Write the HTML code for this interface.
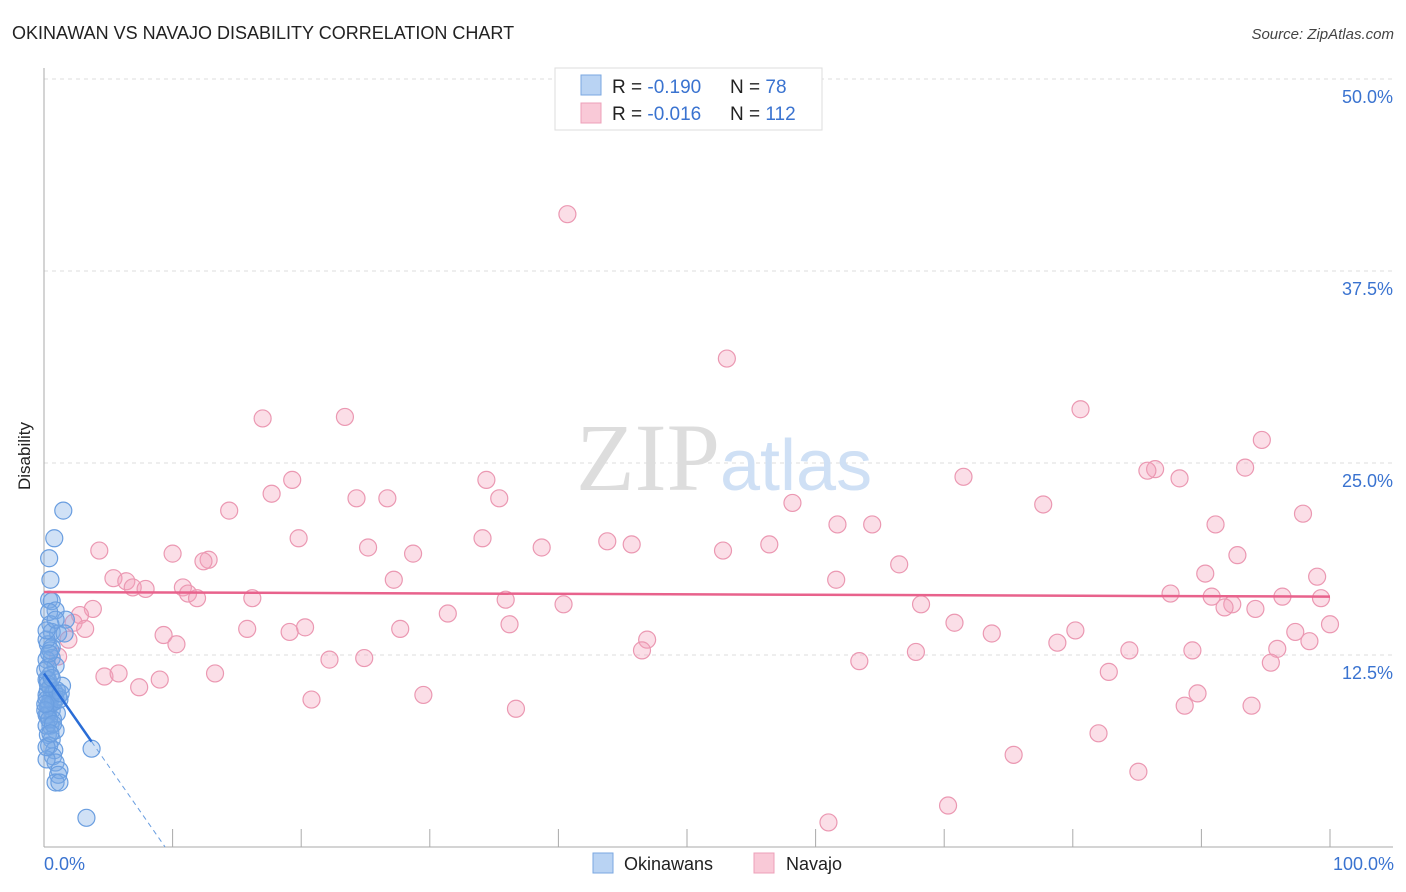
<!DOCTYPE html>
<html><head><meta charset="utf-8"><style>
body{margin:0;background:#fff;width:1406px;height:892px;overflow:hidden;font-family:"Liberation Sans",sans-serif}
svg{position:absolute;left:0;top:0}
</style></head><body>
<svg id="chart" width="1406" height="892">
<text x="12" y="39" font-size="18" fill="#222">OKINAWAN VS NAVAJO DISABILITY CORRELATION CHART</text>
<text x="1394" y="39" font-size="15" fill="#444" font-style="italic" text-anchor="end">Source: ZipAtlas.com</text>
<text x="30" y="456" font-size="17" fill="#222" transform="rotate(-90 30 456)" text-anchor="middle">Disability</text>
<g id="grid"></g>
<text x="720" y="490" font-size="96" fill="#ddd" text-anchor="end" font-family="Liberation Serif,serif">ZIP</text>
<text x="720" y="490" font-size="72" fill="#cfe0f5">atlas</text>
<g id="axes"></g>
<g id="pts"></g>
<g id="trends"></g>
<g>
<rect x="555" y="68" width="267" height="62" fill="#fff" stroke="#ddd"/>
<rect x="581" y="75" width="20" height="20" fill="#b9d3f3" stroke="#7aa7e0"/>
<rect x="581" y="103" width="20" height="20" fill="#f9c9d7" stroke="#eda0b8"/>
<text x="612" y="93" font-size="19" fill="#222">R = <tspan fill="#3a73d0">-0.190</tspan></text>
<text x="730" y="93" font-size="19" fill="#222">N = <tspan fill="#3a73d0"> 78</tspan></text>
<text x="612" y="120" font-size="19" fill="#222">R = <tspan fill="#3a73d0">-0.016</tspan></text>
<text x="730" y="120" font-size="19" fill="#222">N = <tspan fill="#3a73d0">112</tspan></text>
</g>
<g>
<rect x="593" y="853" width="20" height="20" fill="#b9d3f3" stroke="#7aa7e0"/>
<text x="624" y="870" font-size="18" fill="#222">Okinawans</text>
<rect x="754" y="853" width="20" height="20" fill="#f9c9d7" stroke="#eda0b8"/>
<text x="786" y="870" font-size="18" fill="#222">Navajo</text>
</g>
</svg>
<script>
const yTicks=[12.5,25,37.5,50];
const yTickLabels=["12.5%","25.0%","37.5%","50.0%"];
const xTickLabels=["0.0%","100.0%"];
const okiX=[1.5,0.8,0.4,0.5,0.4,0.6,0.9,1.7,0.5,0.6,1.1,1.6,0.3,0.6,0.6,0.2,0.9,0.3,0.5,1.4,0.3,0.6,1.1,0.5,0.9,0.3,0.6,1.0,0.3,0.7,0.5,0.9,0.3,0.6,0.4,0.8,3.7,0.7,0.9,1.2,1.1,0.9,1.2,3.3,0.2,0.5,0.2,0.2,0.4,0.2,0.2,0.3,0.5,0.8,0.7,0.2,0.1,0.4,1.0,1.2,0.1,0.2,0.2,0.4,0.9,0.3,0.6,0.2,0.4,1.3,0.7,0.1,0.5];
const okiY=[21.9,20.1,18.8,17.4,16.1,16.0,15.4,14.8,14.5,14.0,13.9,13.9,13.2,13.0,12.3,12.2,11.8,11.7,11.2,10.5,10.2,9.9,9.8,9.6,9.6,9.2,8.9,8.7,8.6,8.3,7.9,7.6,7.3,7.0,6.6,6.3,6.4,5.9,5.5,5.0,4.7,4.2,4.2,1.9,5.7,12.8,10.9,9.9,9.2,8.6,7.9,10.9,10.4,10.1,9.4,9.6,8.9,8.3,10.2,9.6,11.5,13.5,14.1,15.3,14.8,10.6,11.0,6.5,12.6,10.0,8.0,9.3,7.4];
const navX=[40.7,53.1,80.6,17.0,23.4,94.7,86.4,85.8,93.4,71.5,88.3,19.3,34.4,17.7,24.3,26.7,35.4,58.2,77.7,14.4,97.9,61.7,64.4,91.1,34.1,19.8,43.8,45.7,56.4,38.7,25.2,4.3,52.8,28.7,10.0,92.8,12.8,12.4,66.5,90.3,5.4,61.6,27.2,6.4,99.0,6.9,7.9,10.8,11.2,11.9,16.2,35.9,87.6,96.3,90.8,99.3,40.4,68.2,92.4,91.8,3.8,94.2,2.8,31.4,2.3,36.2,70.8,100,15.8,3.2,27.7,20.3,19.1,80.2,73.7,9.3,97.3,98.4,46.9,78.8,10.3,1.9,95.9,84.4,89.3,46.5,67.8,1.1,22.2,24.9,63.4,95.4,82.8,13.3,4.7,5.8,9.0,7.4,29.5,20.8,89.7,88.7,93.9,36.7,82.0,75.4,85.1,70.3,61.0];
const navY=[41.2,31.8,28.5,27.9,28.0,26.5,24.6,24.5,24.7,24.1,24.0,23.9,23.9,23.0,22.7,22.7,22.7,22.4,22.3,21.9,21.7,21.0,21.0,21.0,20.1,20.1,19.9,19.7,19.7,19.5,19.5,19.3,19.3,19.1,19.1,19.0,18.7,18.6,18.4,17.8,17.5,17.4,17.4,17.3,17.6,16.9,16.8,16.9,16.5,16.2,16.2,16.1,16.5,16.3,16.3,16.2,15.8,15.8,15.8,15.6,15.5,15.5,15.1,15.2,14.6,14.5,14.6,14.5,14.2,14.2,14.2,14.3,14.0,14.1,13.9,13.8,14.0,13.4,13.5,13.3,13.2,13.5,12.9,12.8,12.8,12.8,12.7,12.4,12.2,12.3,12.1,12.0,11.4,11.3,11.1,11.3,10.9,10.4,9.9,9.6,10.0,9.2,9.2,9.0,7.4,6.0,4.9,2.7,1.6];
const okiTrend=[11.3,-1.2]; // intercept, slope
const navTrend=[16.6,16.3]; // y at 0, y at 100

const NS="http://www.w3.org/2000/svg";
const X0=44,X1=1330,Y0=847,Y50=79;
const sx=v=>X0+v*(X1-X0)/100;
const sy=v=>Y0-v*(Y0-Y50)/50;
function mk(tag,attrs,parent){const e=document.createElementNS(NS,tag);for(const k in attrs)e.setAttribute(k,attrs[k]);parent.appendChild(e);return e;}
const grid=document.getElementById('grid'),axes=document.getElementById('axes'),pts=document.getElementById('pts'),tr=document.getElementById('trends');
yTicks.forEach((t,i)=>{
 const l=mk('line',{x1:X0,x2:1393,y1:sy(t),y2:sy(t),stroke:'#ddd','stroke-dasharray':'4,4'},grid);
 
 
 const tx=mk('text',{x:1393,y:sy(t)+24,'font-size':18,fill:'#3a73d0','text-anchor':'end'},axes);
 tx.textContent=yTickLabels[i];
 
 
});
let a=mk('line',{x1:X0,x2:X0,y1:68,y2:Y0,stroke:'#aaa'},axes);


a=mk('line',{x1:X0,x2:1393,y1:Y0,y2:Y0,stroke:'#aaa'},axes);


for(let i=1;i<=10;i++){
 const t=mk('line',{x1:sx(i*10),x2:sx(i*10),y1:829,y2:Y0,stroke:'#aaa'},axes);
 
 
}
[[0,'start',44],[100,'end',1394]].forEach((d,i)=>{
 const t=mk('text',{x:d[2],y:870,'font-size':18,fill:'#3a73d0','text-anchor':d[1]},axes);
 t.textContent=xTickLabels[i];
 
 
});
navX.forEach((x,i)=>{
 const c=mk('circle',{cx:sx(x),cy:sy(navY[i]),r:8.5,fill:'rgba(244,160,185,0.35)',stroke:'#eb98b2','stroke-width':1.2},pts);
 
 
});
okiX.forEach((x,i)=>{
 const c=mk('circle',{cx:sx(x),cy:sy(okiY[i]),r:8.5,fill:'rgba(120,170,230,0.35)',stroke:'#6a9ee0','stroke-width':1.2},pts);
 
 
});
let l=mk('line',{x1:sx(0),y1:sy(navTrend[0]),x2:sx(100),y2:sy(navTrend[1]),stroke:'#e8628c','stroke-width':2.5},tr);


const xe=3.7,xz=-okiTrend[0]/okiTrend[1];
l=mk('line',{x1:sx(0),y1:sy(okiTrend[0]),x2:sx(xe),y2:sy(okiTrend[0]+okiTrend[1]*xe),stroke:'#2a6dd6','stroke-width':2.5},tr);


l=mk('line',{x1:sx(xe),y1:sy(okiTrend[0]+okiTrend[1]*xe),x2:sx(xz),y2:sy(0),stroke:'#6a9ee0','stroke-width':1,'stroke-dasharray':'5,4'},tr);


</script>
</body></html>
